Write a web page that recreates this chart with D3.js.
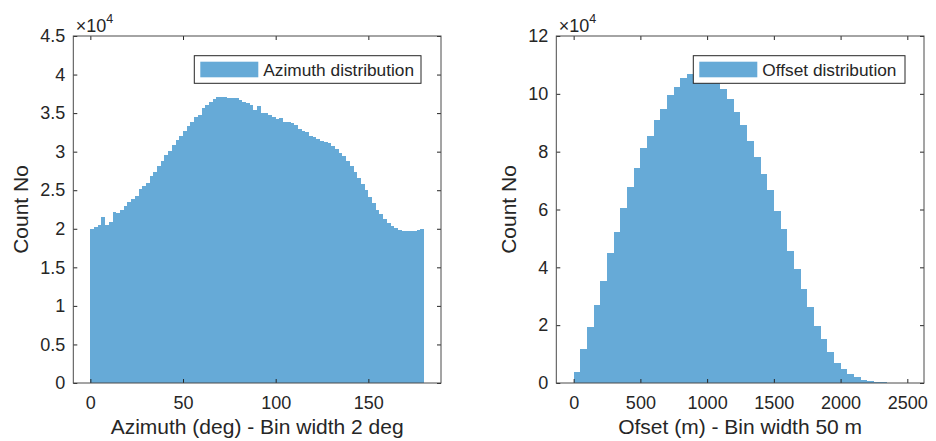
<!DOCTYPE html>
<html>
<head>
<meta charset="utf-8">
<script src="https://cdn.jsdelivr.net/npm/d3@7"></script>
<style>
  html, body { margin: 0; padding: 0; background: #fff; }
  svg { display: block; }
  text { font-family: "Liberation Sans", Arial, Helvetica, sans-serif; fill: #262626; }
</style>
</head>
<body>
<svg id="chart" width="936" height="441"></svg>
<script>
// ---------- DATA ----------
const azimuthBinWidth = 2;      // deg
const azimuthFirstEdge = 0;
const azimuthCounts = [
  20000, 20200, 20500, 21500, 20500, 20900, 22200, 22000, 22400, 22900,
  23500, 23800, 24200, 25100, 25500, 25900, 26900, 27400, 28100, 28800,
  29600, 30100, 30800, 31500, 32000, 32700, 33300, 33900, 34500, 34800,
  35600, 36100, 36500, 36800, 37100, 37150, 37150, 37000, 37000, 36950,
  36700, 36500, 36300, 36000, 35400, 35900, 35050, 35000, 34800, 34500,
  34300, 34400, 33900, 33800, 33700, 33500, 33000, 32700, 32500, 32000,
  31900, 31700, 31400, 31300, 31100, 30700, 30300, 29800, 29400, 28800,
  28100, 27400, 26600, 25800, 25000, 24100, 23300, 22500, 21900, 21300,
  20700, 20300, 20100, 19900, 19750, 19700, 19700, 19750, 19800, 20000
];
const azimuthXTicks = [0, 50, 100, 150];
const azimuthYTicks = [0, 5000, 10000, 15000, 20000, 25000, 30000, 35000, 40000, 45000];

const offsetBinWidth = 50;      // m
const offsetFirstEdge = 0;
const offsetCounts = [
  3900, 11600, 19500, 27000, 35400, 45100, 52300, 60600, 67800, 74200,
  81100, 85300, 90900, 94600, 99500, 102200, 105400, 106700, 107500, 107000,
  105500, 103600, 101800, 98100, 93800, 89200, 83800, 78000, 72400, 66600,
  59600, 53300, 45600, 39300, 32400, 26400, 19800, 15200, 10700, 7000,
  4700, 3100, 2000, 1000, 600, 400, 200, 100, 50, 20
];
const offsetXTicks = [0, 500, 1000, 1500, 2000, 2500];
const offsetYTicks = [0, 20000, 40000, 60000, 80000, 100000, 120000];

const panels = [
  {
    counts: azimuthCounts, binWidth: azimuthBinWidth, firstEdge: azimuthFirstEdge,
    xDomain: [-9.2, 189.2], yDomain: [0, 45000],
    xTicks: azimuthXTicks, yTicks: azimuthYTicks,
    xLabel: "Azimuth (deg) - Bin width 2 deg", yLabel: "Count No",
    legend: "Azimuth distribution",
    box: { x0: 73.3, x1: 441, y0: 36, y1: 383 },
    legendBox: { x: 194.3, y: 55.7, w: 226.7, h: 27.6 },
    yLabelX: 21
  },
  {
    counts: offsetCounts, binWidth: offsetBinWidth, firstEdge: offsetFirstEdge,
    xDomain: [-130, 2625], yDomain: [0, 120000],
    xTicks: offsetXTicks, yTicks: offsetYTicks,
    xLabel: "Ofset (m) - Bin width 50 m", yLabel: "Count No",
    legend: "Offset distribution",
    box: { x0: 556.3, x1: 924, y0: 36, y1: 383 },
    legendBox: { x: 693.3, y: 55.7, w: 211.7, h: 27.6 },
    yLabelX: 509
  }
];

// ---------- DRAW ----------
const barColor = "#66aad7";
const axisColor = "#262626";
const svg = d3.select("#chart");

const fmt = v => { const s = +(v / 1e4).toFixed(2); return String(s); };

panels.forEach(p => {
  const b = p.box;
  const x = d3.scaleLinear().domain(p.xDomain).range([b.x0, b.x1]);
  const y = d3.scaleLinear().domain(p.yDomain).range([b.y1, b.y0]);
  const g = svg.append("g");

  // bars
  g.append("g").selectAll("rect").data(p.counts).join("rect")
    .attr("x", (d, i) => x(p.firstEdge + i * p.binWidth))
    .attr("width", (d, i) => x(p.firstEdge + (i + 1) * p.binWidth) - x(p.firstEdge + i * p.binWidth))
    .attr("y", d => y(d))
    .attr("height", d => y(0) - y(d))
    .attr("fill", barColor)
    .attr("shape-rendering", "crispEdges");

  // axes (inward ticks, mirrored on top/right)
  const bottom = g.append("g").attr("transform", `translate(0,${b.y1})`)
    .call(d3.axisBottom(x).tickValues(p.xTicks).tickSizeInner(-4).tickSizeOuter(0).tickPadding(13.5).tickFormat(d3.format("d")));
  const top = g.append("g").attr("transform", `translate(0,${b.y0})`)
    .call(d3.axisTop(x).tickValues(p.xTicks).tickSizeInner(-4).tickSizeOuter(0).tickFormat(""));
  const left = g.append("g").attr("transform", `translate(${b.x0},0)`)
    .call(d3.axisLeft(y).tickValues(p.yTicks).tickSizeInner(-4).tickSizeOuter(0).tickPadding(8).tickFormat(fmt));
  const right = g.append("g").attr("transform", `translate(${b.x1},0)`)
    .call(d3.axisRight(y).tickValues(p.yTicks).tickSizeInner(-4).tickSizeOuter(0).tickFormat(""));

  [bottom, top, left, right].forEach(a => {
    a.select(".domain").remove();
    a.selectAll(".tick line").attr("stroke", axisColor).attr("stroke-width", 1);
    a.selectAll(".tick text")
      .style("font-family", '"Liberation Sans", Arial, Helvetica, sans-serif')
      .style("font-size", "18px").attr("fill", axisColor);
  });

  // box
  g.append("rect")
    .attr("x", b.x0).attr("y", b.y0)
    .attr("width", b.x1 - b.x0).attr("height", b.y1 - b.y0)
    .attr("fill", "none").attr("stroke", "#4a4a4a").attr("stroke-width", 1);

  // exponent label
  const ex = g.append("text").attr("x", b.x0 + 2.5).attr("y", 31.5).style("font-size", "18px");
  ex.append("tspan").text("\u00d710");
  ex.append("tspan").attr("dy", -8.5).style("font-size", "12.5px").text("4");

  // axis labels
  g.append("text")
    .attr("x", (b.x0 + b.x1) / 2).attr("y", 434)
    .attr("text-anchor", "middle").style("font-size", "21px")
    .text(p.xLabel);
  g.append("text")
    .attr("transform", `translate(${p.yLabelX + 7},${(b.y0 + b.y1) / 2}) rotate(-90)`)
    .attr("text-anchor", "middle").style("font-size", "21px")
    .text(p.yLabel);

  // legend
  const L = p.legendBox;
  g.append("rect").attr("x", L.x).attr("y", L.y).attr("width", L.w).attr("height", L.h)
    .attr("fill", "#fff").attr("stroke", "#262626").attr("stroke-width", 1);
  g.append("rect").attr("x", L.x + 6).attr("y", L.y + 6).attr("width", 58).attr("height", 15.6)
    .attr("fill", barColor);
  g.append("text").attr("x", L.x + 69).attr("y", L.y + 20)
    .style("font-size", "17.3px").text(p.legend);
});
</script>
</body>
</html>
